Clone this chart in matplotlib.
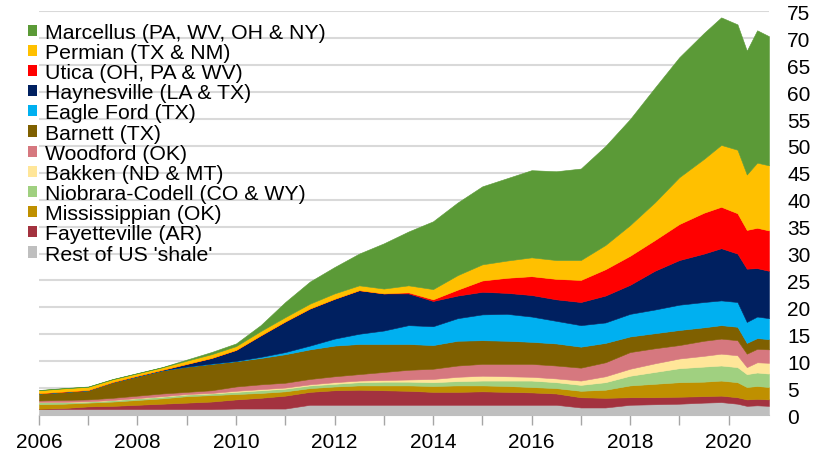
import matplotlib
matplotlib.use("Agg")
import matplotlib.pyplot as plt
from matplotlib.patches import Patch

plt.rcParams['font.family'] = ['Liberation Sans', 'DejaVu Sans']

# decimal years of the sampled points
years = [2006.0, 2006.5, 2007.0, 2007.5, 2008.0, 2008.5, 2009.0, 2009.5,
         2010.0, 2010.5, 2011.0, 2011.5, 2012.0, 2012.5, 2013.0, 2013.5,
         2014.0, 2014.5, 2015.0, 2015.5, 2016.0, 2016.5, 2017.0, 2017.5,
         2018.0, 2018.5, 2019.0, 2019.5, 2019.85, 2020.18, 2020.37, 2020.58,
         2020.82]

# shale gas production by play, Bcf/d (bottom of stack first)
rest = [1.1, 1.1, 1.1, 1.1, 1.1, 1.1, 1.1, 1.1, 1.2, 1.2, 1.2, 1.9, 1.9, 1.9, 1.9, 1.9,
        1.9, 1.9, 1.9, 1.9, 1.9, 1.9, 1.4, 1.4, 1.9, 2.0, 2.1, 2.3, 2.4, 2.1, 1.7, 1.8, 1.7]
fayetteville = [0.05, 0.2, 0.5, 0.6, 0.8, 1.0, 1.2, 1.4, 1.7, 2.0, 2.4, 2.4, 2.7, 2.8, 2.7, 2.6,
                2.4, 2.4, 2.5, 2.4, 2.3, 2.1, 1.9, 1.8, 1.4, 1.3, 1.3, 1.2, 1.2, 1.2, 1.2, 1.2, 1.2]
mississippian = [0.85, 0.8, 0.7, 0.8, 0.9, 1.0, 1.2, 1.2, 1.0, 0.9, 0.8, 0.7, 0.7, 0.8, 0.9, 1.0,
                 1.1, 1.2, 1.1, 1.1, 1.0, 1.0, 1.2, 1.5, 2.2, 2.5, 2.7, 2.7, 2.8, 2.8, 2.3, 2.4, 2.3]
niobrara = [0.4, 0.3, 0.2, 0.25, 0.3, 0.3, 0.3, 0.3, 0.4, 0.5, 0.5, 0.5, 0.5, 0.6, 0.7, 0.7,
            0.7, 0.8, 0.9, 1.0, 1.2, 1.1, 1.1, 1.4, 1.8, 2.2, 2.6, 2.8, 2.8, 2.8, 2.4, 2.5, 2.5]
bakken = [0.05, 0.05, 0.05, 0.05, 0.05, 0.1, 0.1, 0.1, 0.2, 0.2, 0.2, 0.2, 0.3, 0.3, 0.3, 0.4,
          0.6, 0.8, 0.9, 0.8, 0.7, 0.7, 0.8, 1.1, 1.3, 1.6, 1.8, 2.0, 2.2, 2.2, 1.3, 1.9, 2.0]
woodford = [0.25, 0.35, 0.35, 0.4, 0.45, 0.5, 0.4, 0.5, 0.8, 0.9, 0.9, 1.0, 1.1, 1.2, 1.5, 1.8,
            1.9, 2.1, 2.2, 2.3, 2.4, 2.4, 2.4, 2.6, 3.1, 2.8, 2.5, 2.8, 2.8, 2.8, 2.5, 2.5, 2.5]
barnett = [1.3, 1.5, 1.7, 2.9, 3.6, 4.3, 4.7, 4.9, 4.7, 4.9, 5.3, 5.5, 5.7, 5.6, 5.2, 4.8,
           4.4, 4.6, 4.4, 4.3, 4.1, 4.1, 3.9, 3.6, 2.9, 2.8, 2.8, 2.5, 2.5, 2.5, 2.0, 2.0, 1.9]
eagle_ford = [0, 0, 0, 0, 0, 0, 0, 0.05, 0.05, 0.2, 0.4, 0.7, 1.3, 1.9, 2.5, 3.5,
              3.5, 4.2, 4.8, 5.0, 4.7, 4.2, 4.0, 3.8, 4.2, 4.4, 4.7, 4.7, 4.6, 4.6, 3.9, 4.0, 3.9]
haynesville = [0.05, 0.05, 0.05, 0.05, 0.1, 0.1, 0.5, 1.05, 2.05, 4.0, 5.7, 6.9, 7.4, 8.1, 6.9, 5.9,
               4.7, 4.2, 4.2, 3.9, 4.0, 4.0, 4.3, 5.0, 5.4, 7.2, 8.3, 9.0, 9.7, 9.0, 9.9, 9.0, 8.8]
utica = [0, 0, 0, 0, 0, 0, 0, 0, 0, 0, 0, 0, 0, 0, 0, 0.2,
         0.3, 1.1, 2.1, 2.8, 3.5, 3.8, 4.1, 4.9, 5.4, 5.7, 6.7, 7.6, 7.7, 7.5, 7.2, 7.5, 7.5]
permian = [0.55, 0.6, 0.6, 0.5, 0.45, 0.45, 0.6, 0.7, 0.7, 0.8, 0.8, 0.9, 1.0, 0.9, 0.9, 1.3,
           1.9, 2.7, 3.0, 3.2, 3.5, 3.5, 3.7, 4.5, 5.7, 7.0, 8.7, 10.0, 11.5, 11.8, 10.3, 12.1, 12.1]
marcellus = [0.05, 0.05, 0.05, 0.05, 0.05, 0.05, 0.2, 0.4, 0.5, 1.1, 2.8, 4.1, 4.9, 5.9, 8.4, 10.0,
             12.6, 13.5, 14.5, 15.3, 16.2, 16.5, 17.0, 18.4, 19.7, 21.3, 22.3, 23.4, 23.7, 23.3, 23.0, 24.6, 24.0]

labels = ["Rest of US 'shale'", "Fayetteville (AR)", "Mississippian (OK)",
          "Niobrara-Codell (CO & WY)", "Bakken (ND & MT)", "Woodford (OK)",
          "Barnett (TX)", "Eagle Ford (TX)", "Haynesville (LA & TX)",
          "Utica (OH, PA & WV)", "Permian (TX & NM)", "Marcellus (PA, WV, OH & NY)"]
colors = ['#bfbfbf', '#a3323f', '#bf9000', '#a0d080', '#ffe699', '#d6787f',
          '#7f6000', '#00b0f0', '#002060', '#ff0000', '#ffc000', '#5b9a37']

year_ticks = list(range(2006, 2021))
year_labels = [str(y) if y % 2 == 0 else '' for y in year_ticks]
value_ticks = list(range(0, 80, 5))

fig = plt.figure(figsize=(8.17, 4.56), dpi=100)
ax = fig.add_axes([0.0477, 0.0877, 0.8935, 0.885])

series = [rest, fayetteville, mississippian, niobrara, bakken, woodford,
          barnett, eagle_ford, haynesville, utica, permian, marcellus]
polys = ax.stackplot(years, *series, colors=colors, labels=labels, zorder=2)
for p, c in zip(polys, colors):
    p.set_edgecolor(c)
    p.set_linewidth(0.4)

ax.set_xlim(2006, 2020.82)
ax.set_ylim(0, 75)
ax.set_xticks(year_ticks)
ax.set_xticklabels(year_labels)
ax.set_yticks(value_ticks)
ax.yaxis.tick_right()
ax.tick_params(axis='y', length=0, pad=13, labelsize=15, colors='#000000')
ax.tick_params(axis='x', length=7, width=1, color='#a6a6a6', pad=5, labelsize=15)
ax.grid(axis='y', color='#d9d9d9', linewidth=1.5, zorder=0)
ax.set_axisbelow(True)
for side in ['left', 'right', 'top']:
    ax.spines[side].set_visible(False)
ax.spines['bottom'].set_color('#bfbfbf')
ax.spines['bottom'].set_zorder(3)

handles = [Patch(facecolor=c, edgecolor='none') for c in colors][::-1]
fig.legend(handles, labels[::-1], loc='upper left', bbox_to_anchor=(0.034, 0.948),
           frameon=False, fontsize=15.3, handlelength=0.43, handleheight=0.43,
           handletextpad=0.38, labelspacing=0.055, borderpad=0, borderaxespad=0)

fig.savefig('out.png', dpi=100)
